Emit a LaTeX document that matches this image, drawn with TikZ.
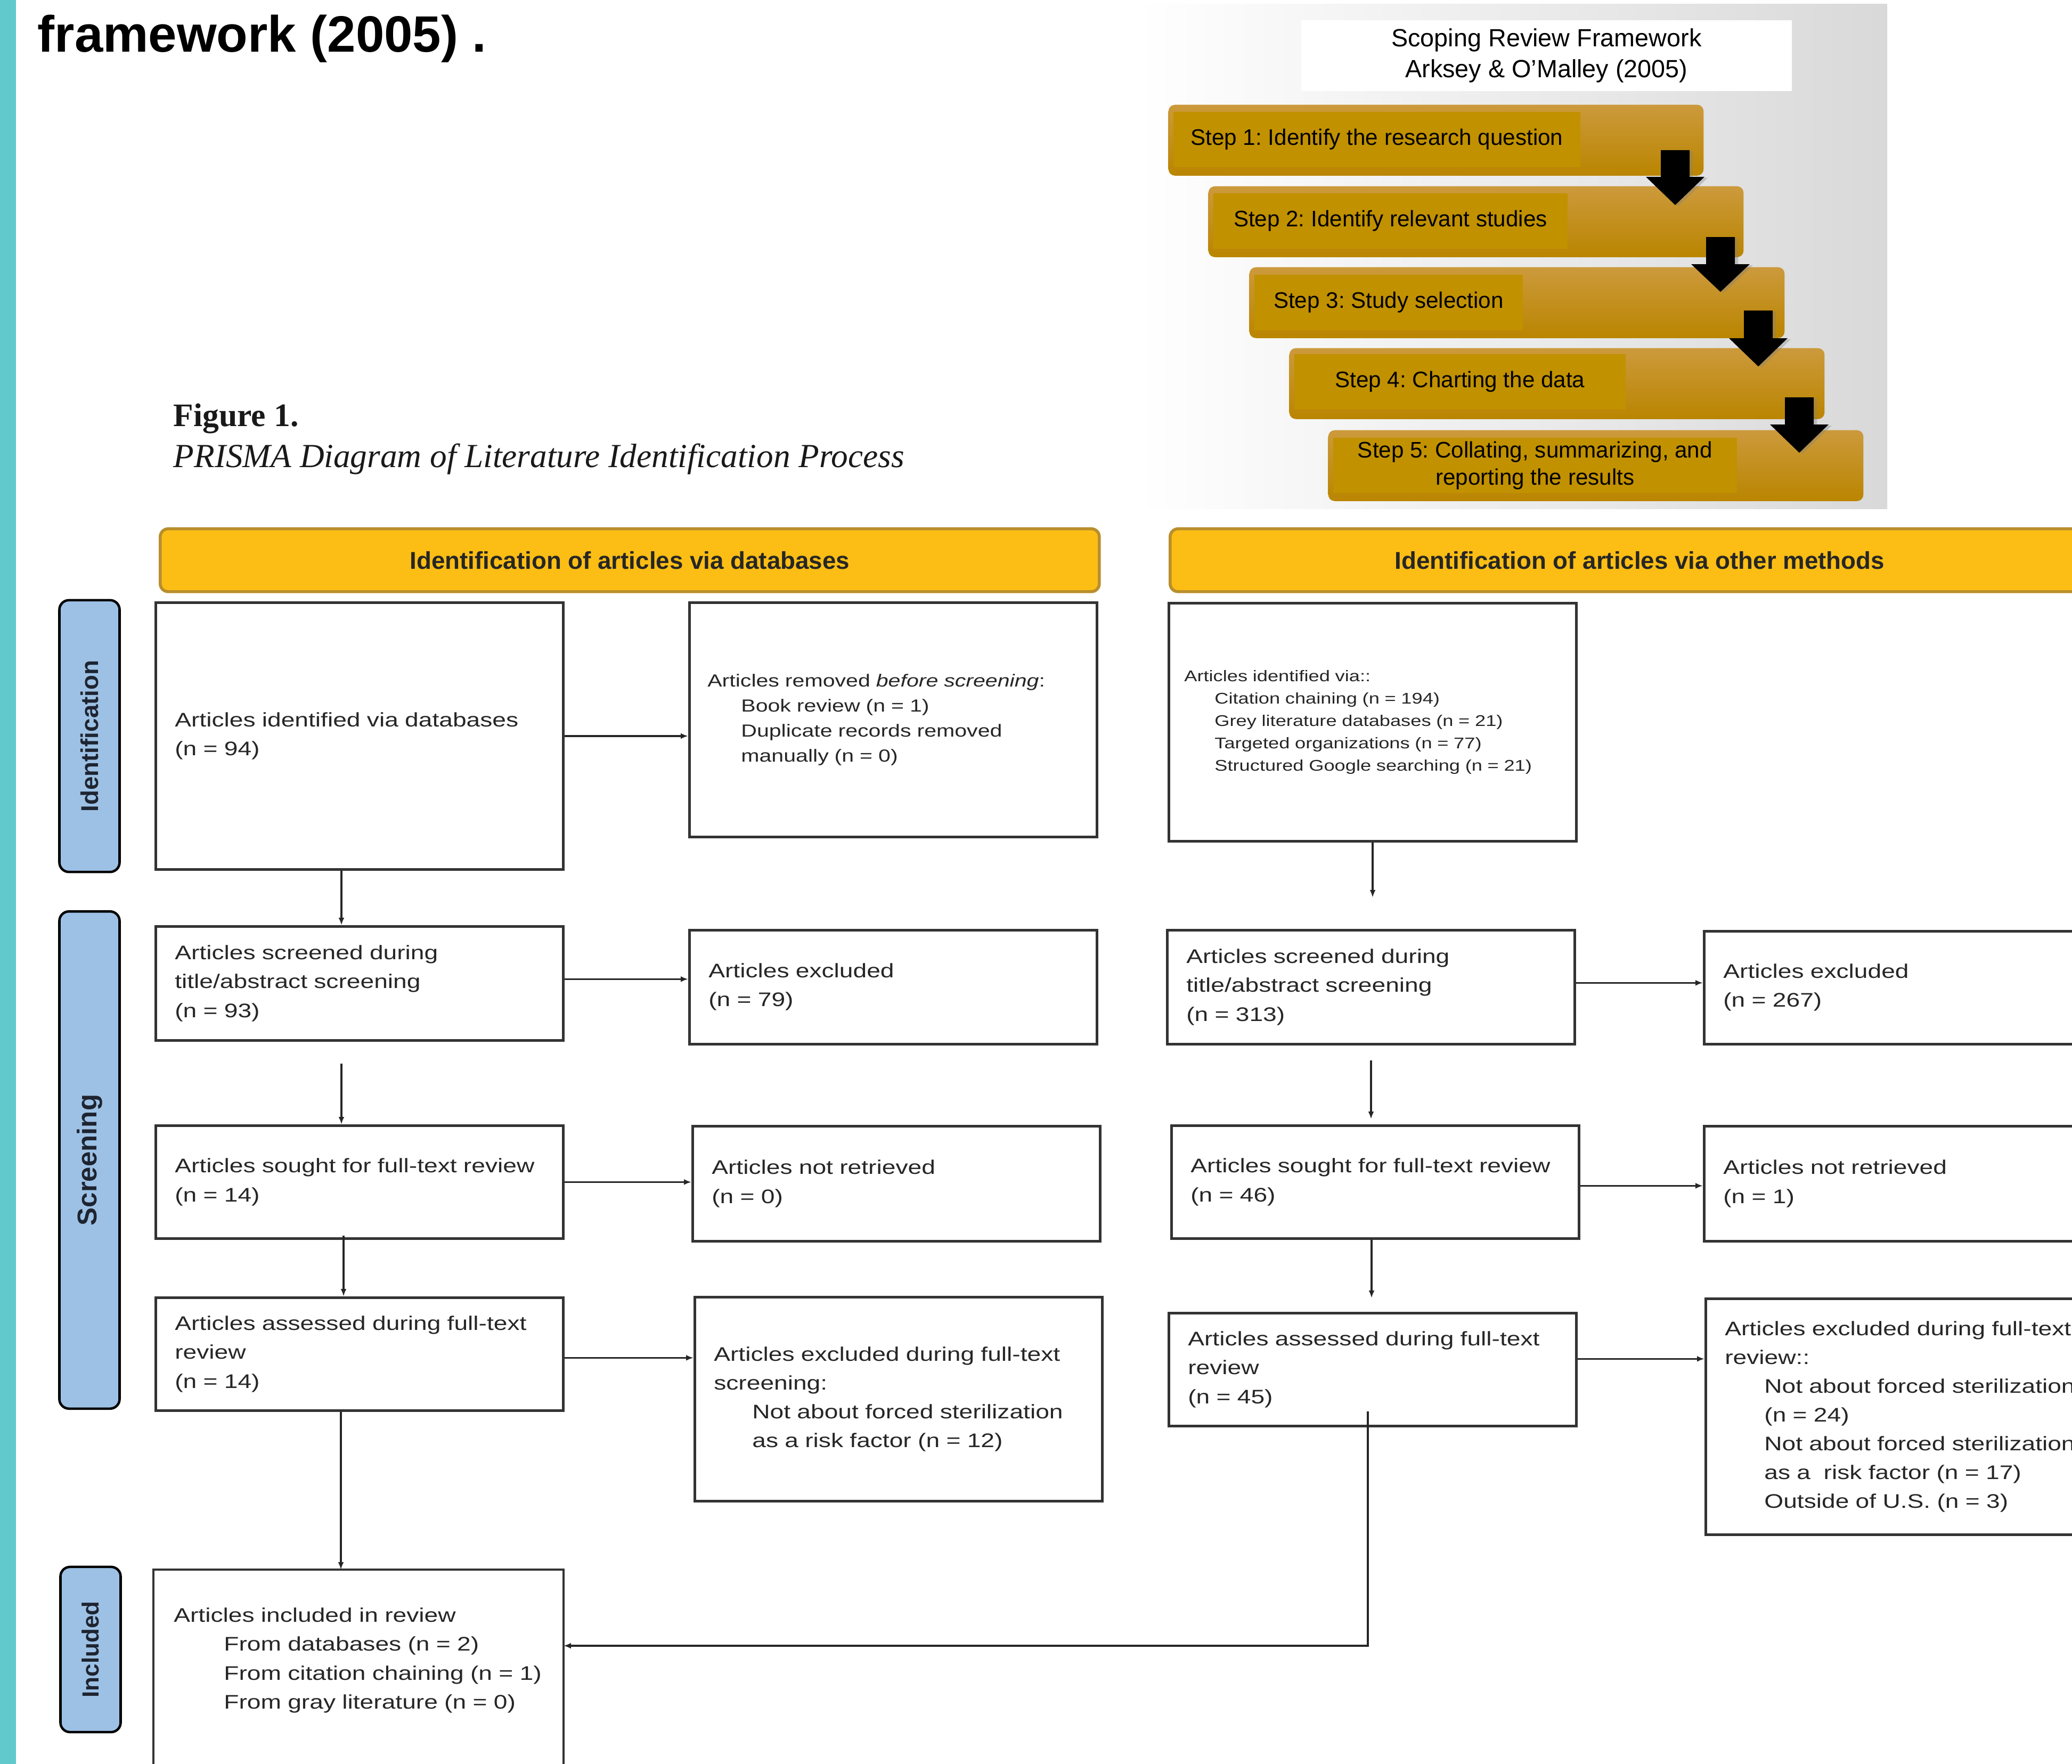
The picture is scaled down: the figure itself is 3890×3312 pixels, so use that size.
\documentclass[tikz,border=0pt]{standalone}
\usepackage{fontspec}
\setmainfont{Liberation Sans}
\newfontfamily\serifcap{Liberation Serif}
\newfontfamily\prismafont[FakeStretch=1.25]{Liberation Sans}
\usetikzlibrary{arrows.meta,shadows}
\frenchspacing

\definecolor{tealbar}{RGB}{96,201,204}
\definecolor{steptop}{RGB}{204,154,60}
\definecolor{stepgold}{RGB}{200,146,0}
\definecolor{stepbot}{RGB}{186,133,0}
\definecolor{goldflat}{RGB}{193,145,0}
\definecolor{headyellow}{RGB}{252,190,20}
\definecolor{headedge}{RGB}{185,143,45}
\definecolor{sideblue}{RGB}{157,193,229}
\definecolor{sidetext}{RGB}{30,36,48}

\begin{document}
\begin{tikzpicture}[x=0.01cm, y=-0.01cm,
  box/.style={draw=black!80, line width=1.3pt, fill=white, anchor=north west,
    align=left, minimum width=7.65cm, text width=6.93cm, inner xsep=0.36cm,
    inner ysep=0pt, text=black!85, font={\prismafont\fontsize{10.5}{15.4}\selectfont}},
  frame/.style={draw=black!80, line width=1.3pt},
  conn/.style={draw=black!85, line width=1pt, -{Latex[length=0.14cm,width=0.11cm]}},
  header/.style={draw=headedge, line width=1.6pt, fill=headyellow, rounded corners=0.15cm,
    anchor=north west, minimum width=17.62cm, minimum height=1.18cm, inner sep=0pt,
    text=black!85, font={\bfseries\fontsize{13}{15}\selectfont}},
  side/.style={draw=black, line width=1.3pt, fill=sideblue, rounded corners=0.18cm,
    rotate=90, minimum height=1.13cm, inner sep=0pt, text=sidetext},
  stepbox/.style={anchor=north west, minimum width=10.04cm, minimum height=1.33cm,
    rounded corners=0.12cm, top color=steptop, middle color=stepgold, bottom color=stepbot,
    inner sep=0pt},
  steptext/.style={anchor=north west, fill=goldflat, minimum height=1.04cm, inner sep=0pt,
    align=center, font={\fontsize{12}{14.5}\selectfont}}
]
\useasboundingbox (0,0) rectangle (3890,3312);
\clip (0,0) rectangle (3890,3312);

% slide
\fill[tealbar] (0,0) rectangle (30,3312);
\node[anchor=base west, inner sep=0pt, font={\bfseries\fontsize{27.3}{32}\selectfont}] (slidetitle) at (70,98) {framework (2005) .};

% framework panel
\shade[left color=white, right color=black!15] (2134,8) rectangle (3543,955);
\node[fill=white, anchor=north west, minimum width=9.21cm, minimum height=1.33cm, inner sep=0pt,
  align=center, font={\fontsize{13.3}{16.5}\selectfont}] (fwtitle) at (2442,37)
  {Scoping Review Framework\\Arksey \& O’Malley (2005)};

\node[stepbox] (step1) at (2193,196) {};
\node[stepbox] (step2) at (2268,349) {};
\node[stepbox] (step3) at (2345,501) {};
\node[stepbox] (step4) at (2420,653) {};
\node[stepbox] (step5) at (2493,807) {};
\node[steptext, minimum width=7.64cm] (st1) at (2202,209) {Step 1: Identify the research question};
\node[steptext, minimum width=6.65cm] (st2) at (2277,362) {Step 2: Identify relevant studies};
\node[steptext, minimum width=5.04cm] (st3) at (2354,515) {Step 3: Study selection};
\node[steptext, minimum width=6.22cm] (st4) at (2429,664) {Step 4: Charting the data};
\node[steptext, minimum width=7.58cm] (st5) at (2502,821) {Step 5: Collating, summarizing, and\\reporting the results};

\foreach \cx/\ty/\hy/\py in {3145/282/332/385, 3230/445/496/548, 3301/583/635/688, 3378/746/797/850}
  \fill[black, drop shadow={shadow xshift=0.06cm, shadow yshift=-0.02cm, opacity=0.35}]
    (\cx-27,\ty) -- (\cx+27,\ty) -- (\cx+27,\hy) -- (\cx+55,\hy) -- (\cx,\py)
    -- (\cx-55,\hy) -- (\cx-27,\hy) -- cycle;

% caption
\node[anchor=base west, inner sep=0pt, text=black!90, font={\serifcap\bfseries\fontsize{17.5}{20}\selectfont}] (figlabel) at (325,800) {Figure 1.};
\node[anchor=base west, inner sep=0pt, text=black!90, font={\serifcap\itshape\fontsize{18}{21}\selectfont}] (figcaption) at (325,877) {PRISMA Diagram of Literature Identification Process};

% headers and phases
\node[header] (hdb) at (298,990) {Identification of articles via databases};
\node[header] (hother) at (2194,990) {Identification of articles via other methods};
\node[side, minimum width=5.1cm, font={\bfseries\fontsize{13}{15}\selectfont}] (phaseid) at (168,1382) {Identification};
\node[side, minimum width=9.33cm, font={\bfseries\fontsize{14.5}{17}\selectfont}] (phasescr) at (168,2178) {Screening};
\node[side, minimum width=3.1cm, font={\bfseries\fontsize{12.5}{15}\selectfont}] (phaseinc) at (170,3097) {Included};

% databases column
\node[box, minimum height=5.01cm] (A1) at (290,1129) {Articles identified via databases\\(n = 94)};
\node[box, minimum height=4.40cm, inner xsep=0.34cm, text width=6.97cm,
  font={\prismafont\fontsize{9.35}{13.4}\selectfont}] (A2) at (1292,1129)
  {Articles removed \textit{before screening}:\\\hspace*{0.63cm}Book review (n = 1)\\\hspace*{0.63cm}Duplicate records removed\\\hspace*{0.63cm}manually (n = 0)};
\node[box, minimum height=2.14cm] (B1) at (290,1737) {Articles screened during\\title/abstract screening\\(n = 93)};
\node[box, minimum height=2.14cm] (B2) at (1292,1744) {Articles excluded\\(n = 79)};
\node[box, minimum height=2.12cm] (C1) at (290,2111) {Articles sought for full-text review\\(n = 14)};
\node[box, minimum height=2.16cm] (C2) at (1298,2112) {Articles not retrieved\\(n = 0)};
\node[box, minimum height=2.12cm] (D1) at (290,2434) {Articles assessed during full-text\\review\\(n = 14)};
\node[box, minimum height=3.83cm] (D2) at (1302,2433)
  {Articles excluded during full-text\\screening:\\\hspace*{0.72cm}Not about forced sterilization\\\hspace*{0.72cm}as a risk factor (n = 12)};
\node[box, draw=none, minimum height=3.36cm] (E1) at (288,2947)
  {Articles included in review\\\hspace*{0.94cm}From databases (n = 2)\\\hspace*{0.94cm}From citation chaining (n = 1)\\\hspace*{0.94cm}From gray literature (n = 0)};
\draw[frame] ([yshift=-4cm]E1.north west) -- (E1.north west) -- (E1.north east) -- ([yshift=-4cm]E1.north east);

% other methods column
\node[box, minimum height=4.47cm, inner xsep=0.29cm, text width=7.07cm,
  font={\prismafont\fontsize{8.25}{12}\selectfont}] (R1) at (2192,1130)
  {Articles identified via::\\\hspace*{0.57cm}Citation chaining (n = 194)\\\hspace*{0.57cm}Grey literature databases (n = 21)\\\hspace*{0.57cm}Targeted organizations (n = 77)\\\hspace*{0.57cm}Structured Google searching (n = 21)};
\node[box, minimum height=2.14cm] (S1) at (2189,1744) {Articles screened during\\title/abstract screening\\(n = 313)};
\node[box, minimum height=2.12cm] (S2) at (3197,1746) {Articles excluded\\(n = 267)};
\node[box, minimum height=2.12cm] (T1) at (2197,2111) {Articles sought for full-text review\\(n = 46)};
\node[box, minimum height=2.16cm] (T2) at (3197,2112) {Articles not retrieved\\(n = 1)};
\node[box, minimum height=2.12cm] (U1) at (2192,2463) {Articles assessed during full-text\\review\\(n = 45)};
\node[box, minimum height=4.43cm] (U2) at (3200,2436)
  {Articles excluded during full-text\\review::\\\hspace*{0.74cm}Not about forced sterilization\\\hspace*{0.74cm}(n = 24)\\\hspace*{0.74cm}Not about forced sterilization\\\hspace*{0.74cm}as a\ \ risk factor (n = 17)\\\hspace*{0.74cm}Outside of U.S. (n = 3)};

% connectors
\draw[conn] (A1.east) -- (A1.east -| A2.west);
\draw[conn] ([xshift=-0.34cm]A1.south) -- ([xshift=-0.34cm]B1.north);
\draw[conn] ([yshift=0.08cm]B1.east) -- ([yshift=0.08cm]B1.east -| B2.west);
\draw[conn] ([xshift=-0.34cm,yshift=-0.41cm]B1.south) -- ([xshift=-0.34cm]C1.north);
\draw[conn] (C1.east) -- (C1.east -| C2.west);
\draw[conn] ([xshift=-0.3cm,yshift=0.08cm]C1.south) -- ([xshift=-0.3cm]D1.north);
\draw[conn] ([yshift=-0.07cm]D1.east) -- ([yshift=-0.07cm]D1.east -| D2.west);
\draw[conn] ([xshift=-0.35cm]D1.south) -- ([xshift=-0.35cm]D1.south |- E1.north);

\draw[conn] (R1.south) -- ([yshift=0.59cm]R1.south |- S1.north);
\draw[conn] ([yshift=0.08cm]S1.east) -- ([yshift=0.08cm]S1.east -| S2.west);
\draw[conn] ([yshift=-0.28cm]S1.south) -- ([yshift=0.1cm]S1.south |- T1.north);
\draw[conn] ([yshift=-0.07cm]T1.east) -- ([yshift=-0.07cm]T1.east -| T2.west);
\draw[conn] ([xshift=-0.07cm]T1.south) -- ([xshift=-0.07cm,yshift=0.26cm]T1.south |- U1.north);
\draw[conn] ([yshift=0.2cm]U1.east) -- ([yshift=0.2cm]U1.east -| U2.west);
\coordinate (turn) at (2568,3090);
\draw[conn] ([yshift=0.3cm]U1.south -| turn) -- (turn) -- (turn -| E1.east);
\end{tikzpicture}
\end{document}
